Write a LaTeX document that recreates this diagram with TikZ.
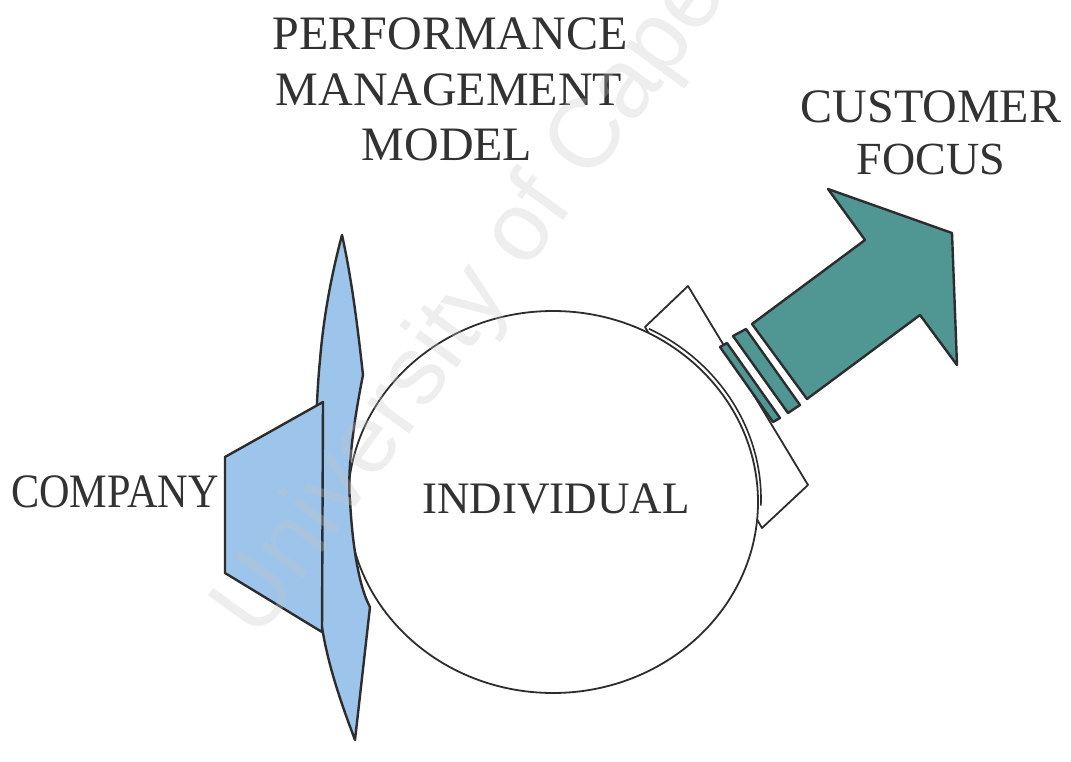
\documentclass[tikz,border=0pt]{standalone}
\usepackage{fontspec}
\setmainfont{Liberation Serif}
\newfontfamily\wmfont{Liberation Sans}
\definecolor{lblue}{RGB}{157,196,234}
\definecolor{teal2}{RGB}{80,150,147}
\definecolor{edge}{RGB}{45,45,45}
\definecolor{txt}{RGB}{50,50,50}
\tikzset{
  shapeline/.style={draw=edge,line width=2.4pt,line join=round},
  bluepart/.style={shapeline,fill=lblue},
  tealpart/.style={shapeline,fill=teal2},
  whitepart/.style={draw=edge,line width=1.8pt,fill=white,line join=round},
  bigtext/.style={text=txt,font=\fontsize{48}{56}\selectfont,inner sep=0pt,anchor=base},
  midtext/.style={text=txt,font=\fontsize{45}{52}\selectfont,inner sep=0pt,anchor=base},
}
\begin{document}
\begin{tikzpicture}[x=1pt,y=-1pt]
\useasboundingbox (0,0) rectangle (1071,762);
\fill[white] (0,0) rectangle (1071,762);
% tilted white plate behind the circle
\draw[whitepart] (688,286) -- (808,485) -- (762,528) -- (645,327) -- cycle;
% individual circle
\draw[whitepart] (553,502) ellipse [x radius=205, y radius=191];
\coordinate (cc) at (553,502);
\draw[draw=edge,line width=1.6pt] (556,499) ++(-63:205 and 191) arc[start angle=-63,end angle=2,x radius=205,y radius=191];
% lens shape (performance management model)
\draw[bluepart] (342,235) .. controls (352,280) and (358,330) .. (363,375)
  .. controls (354,420) and (347,470) .. (350,500)
  .. controls (352,540) and (358,585) .. (370,607)
  -- (355,740)
  .. controls (340,700) and (322,650) .. (319,600)
  .. controls (314,520) and (314,420) .. (320,360)
  .. controls (324,310) and (334,265) .. (342,235) -- cycle;
% company trapezoid
\draw[bluepart] (323,402) -- (225,457) -- (225,573) -- (322,632) -- cycle;
% teal bars and arrow
\draw[tealpart] (720,347) -- (727,343) -- (780,418) -- (773,422) -- cycle;
\draw[tealpart] (733,336) -- (746,329) -- (800,405) -- (788,413) -- cycle;
\draw[tealpart] (752,324) -- (865,240) -- (828,189) -- (952,233) -- (957,365) -- (920,315) -- (807,399) -- cycle;
% texts
\node[bigtext] (pm1) at (450,50) {PERFORMANCE};
\node[bigtext] (pm2) at (449,106) {MANAGEMENT};
\node[bigtext] (pm3) at (447,161) {MODEL};
\node[bigtext] (cf1) at (931,123) {CUSTOMER};
\node[bigtext,font=\fontsize{46}{52}\selectfont] (cf2) at (931,175) {FOCUS};
\node[bigtext,anchor=base west] (co) at (11,507) {\scalebox{0.88}[1]{COMPANY}};
\node[midtext] (ind) at (556,513) {INDIVIDUAL};
% watermark
\node[text=black!22,opacity=0.3,font=\wmfont\fontsize{98}{100}\selectfont,rotate=54,anchor=base west,inner sep=0pt] (wm) at (258,642) {University of Cape Town};
\end{tikzpicture}
\end{document}
